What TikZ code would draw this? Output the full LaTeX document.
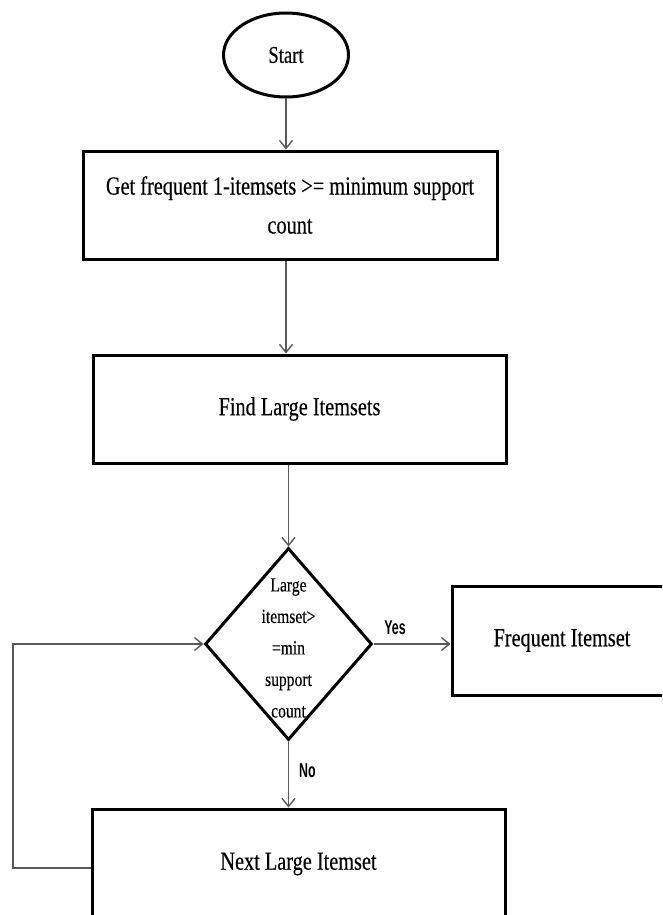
\documentclass[tikz,border=0pt]{standalone}
\usepackage{fontspec}
\usetikzlibrary{shapes.geometric,arrows.meta}
\newfontfamily\boxfont[FakeStretch=0.78,FakeBold=0.3]{Liberation Serif}
\newfontfamily\lblfont[FakeStretch=0.62]{Liberation Sans}
\begin{document}
\begin{tikzpicture}[x=1pt,y=-1pt,
  box/.style={draw=black,line width=3pt,rectangle,inner sep=0pt,align=center,
    font=\boxfont\fontsize{26}{39}\selectfont},
  conn/.style={draw=black!65,line width=1.4pt,-{Straight Barb[length=8pt,width=13pt,line width=1.4pt]}},
  lbl/.style={font=\lblfont\bfseries\fontsize{20}{24}\selectfont,inner sep=0pt}]
\useasboundingbox (0,0) rectangle (662,915);
\clip (0,0) rectangle (662,915);
% nodes
\node[draw=black,line width=3pt,ellipse,minimum width=125pt,minimum height=84pt,inner sep=0pt,
  font=\boxfont\fontsize{24}{28}\selectfont] (start) at (286,55) {Start};
\node[box,minimum width=414pt,minimum height=108pt] (get) at (290,205)
  {Get frequent 1-itemsets >= minimum support\\count};
\node[box,minimum width=413pt,minimum height=108pt] (find) at (299.5,409) {Find Large Itemsets};
\node[draw=black,line width=3pt,diamond,minimum width=167pt,minimum height=192pt,inner sep=0pt] (dec) at (288.5,644) {};
\node[align=center,inner sep=0pt,font=\boxfont\fontsize{20}{31.5}\selectfont] (dectext) at (288.5,648)
  {Large\\itemset>\\=min\\support\\count};
\node[box,minimum width=240pt,minimum height=109pt] (freq) at (572,640.5) {\hspace*{-20pt}Frequent Itemset};
\node[box,minimum width=413pt,minimum height=110pt] (next) at (298.5,864) {Next Large Itemset};
\coordinate (lp) at (13,868);
% connectors
\draw[conn] (start.south) -- (start.south |- get.north);
\draw[conn] (get.south -| start.south) -- (start.south |- find.north);
\draw[conn] (find.south -| dec.north) -- (dec.north);
\draw[conn] (dec.east) -- (dec.east -| freq.west) node[lbl,pos=0.28,above=9pt] (yes) {Yes};
\draw[conn] (dec.south) -- (dec.south |- next.north) node[lbl,pos=0.45,right=10pt] (no) {No};
\draw[conn] (next.west |- lp) -- (lp) |- (dec.west);
\end{tikzpicture}
\end{document}
